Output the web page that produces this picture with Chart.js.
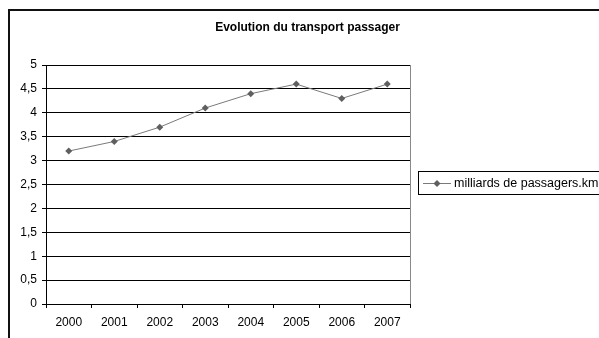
<!DOCTYPE html>
<html>
<head>
<meta charset="utf-8">
<style>
  html, body { margin: 0; padding: 0; background: #fff; }
  #wrap { width: 599px; height: 338px; position: relative; }
</style>
<script src="https://cdn.jsdelivr.net/npm/chart.js@4/dist/chart.umd.min.js"></script>
</head>
<body>
<div id="wrap"><canvas id="chart" width="599" height="338"></canvas></div>
<script>
const years = ['2000', '2001', '2002', '2003', '2004', '2005', '2006', '2007'];
const passengers = [3.2, 3.4, 3.7, 4.1, 4.4, 4.6, 4.3, 4.6];
const seriesLabel = 'milliards de passagers.km';
const chartTitle = 'Evolution du transport passager';

const FONT = 'Arial, "Liberation Sans", sans-serif';

// frame, title, right plot border and legend box like the spreadsheet export
const decor = {
  id: 'decor',
  beforeDraw(chart) {
    const { ctx } = chart;
    ctx.save();
    ctx.strokeStyle = '#111';
    ctx.lineWidth = 2;
    ctx.strokeRect(9, 10, 700, 400);
    ctx.fillStyle = '#000';
    ctx.font = 'bold 12px ' + FONT;
    ctx.textAlign = 'center';
    ctx.textBaseline = 'middle';
    ctx.fillText(chartTitle, 307.5, 28);
    ctx.restore();
  },
  afterDraw(chart) {
    const { ctx, chartArea } = chart;
    ctx.save();
    // right border of plot area
    ctx.strokeStyle = '#888';
    ctx.lineWidth = 1;
    ctx.beginPath();
    ctx.moveTo(Math.round(chartArea.right) + 0.5, chartArea.top);
    ctx.lineTo(Math.round(chartArea.right) + 0.5, chartArea.bottom);
    ctx.stroke();

    // legend
    const ds = chart.data.datasets[0];
    ctx.strokeStyle = '#000';
    ctx.strokeRect(418.5, 171.5, 200, 23);
    const cy = 183;
    ctx.strokeStyle = ds.borderColor;
    ctx.beginPath();
    ctx.moveTo(423, cy + 0.5);
    ctx.lineTo(451, cy + 0.5);
    ctx.stroke();
    ctx.fillStyle = ds.pointBackgroundColor;
    ctx.beginPath();
    ctx.moveTo(437, cy - 3);
    ctx.lineTo(440.5, cy + 0.5);
    ctx.lineTo(437, cy + 4);
    ctx.lineTo(433.5, cy + 0.5);
    ctx.closePath();
    ctx.fill();
    ctx.fillStyle = '#000';
    ctx.font = '12.5px ' + FONT;
    ctx.textBaseline = 'middle';
    ctx.fillText(ds.label, 454, cy + 0.5);
    ctx.restore();
  }
};

new Chart(document.getElementById('chart'), {
  type: 'line',
  data: {
    labels: years,
    datasets: [{
      label: seriesLabel,
      data: passengers,
      borderColor: '#7a7a7a',
      borderWidth: 1,
      pointStyle: 'rectRot',
      pointRadius: 3.5,
      pointBackgroundColor: '#5f5f5f',
      pointBorderColor: '#5f5f5f',
      pointBorderWidth: 0,
      tension: 0
    }]
  },
  options: {
    responsive: false,
    animation: false,
    layout: { padding: { left: 10, right: 189, top: 65, bottom: 0 } },
    plugins: {
      legend: { display: false },
      tooltip: { enabled: false },
      title: { display: false }
    },
    scales: {
      x: {
        offset: true,
        grid: { offset: true, drawOnChartArea: false, drawTicks: true, tickLength: 4, color: '#000' },
        border: { color: '#000' },
        ticks: { color: '#000', font: { family: FONT, size: 12 }, padding: 7, maxRotation: 0 },
        afterFit: (s) => { s.height = 34; }
      },
      y: {
        min: 0,
        max: 5,
        grid: { color: '#000', tickLength: 4 },
        border: { color: '#000' },
        ticks: {
          stepSize: 0.5,
          color: '#000',
          font: { family: FONT, size: 12 },
          padding: 5,
          callback: (v) => String(v).replace('.', ',')
        },
        afterFit: (s) => { s.width = 36; }
      }
    }
  },
  plugins: [decor]
});
</script>
</body>
</html>
